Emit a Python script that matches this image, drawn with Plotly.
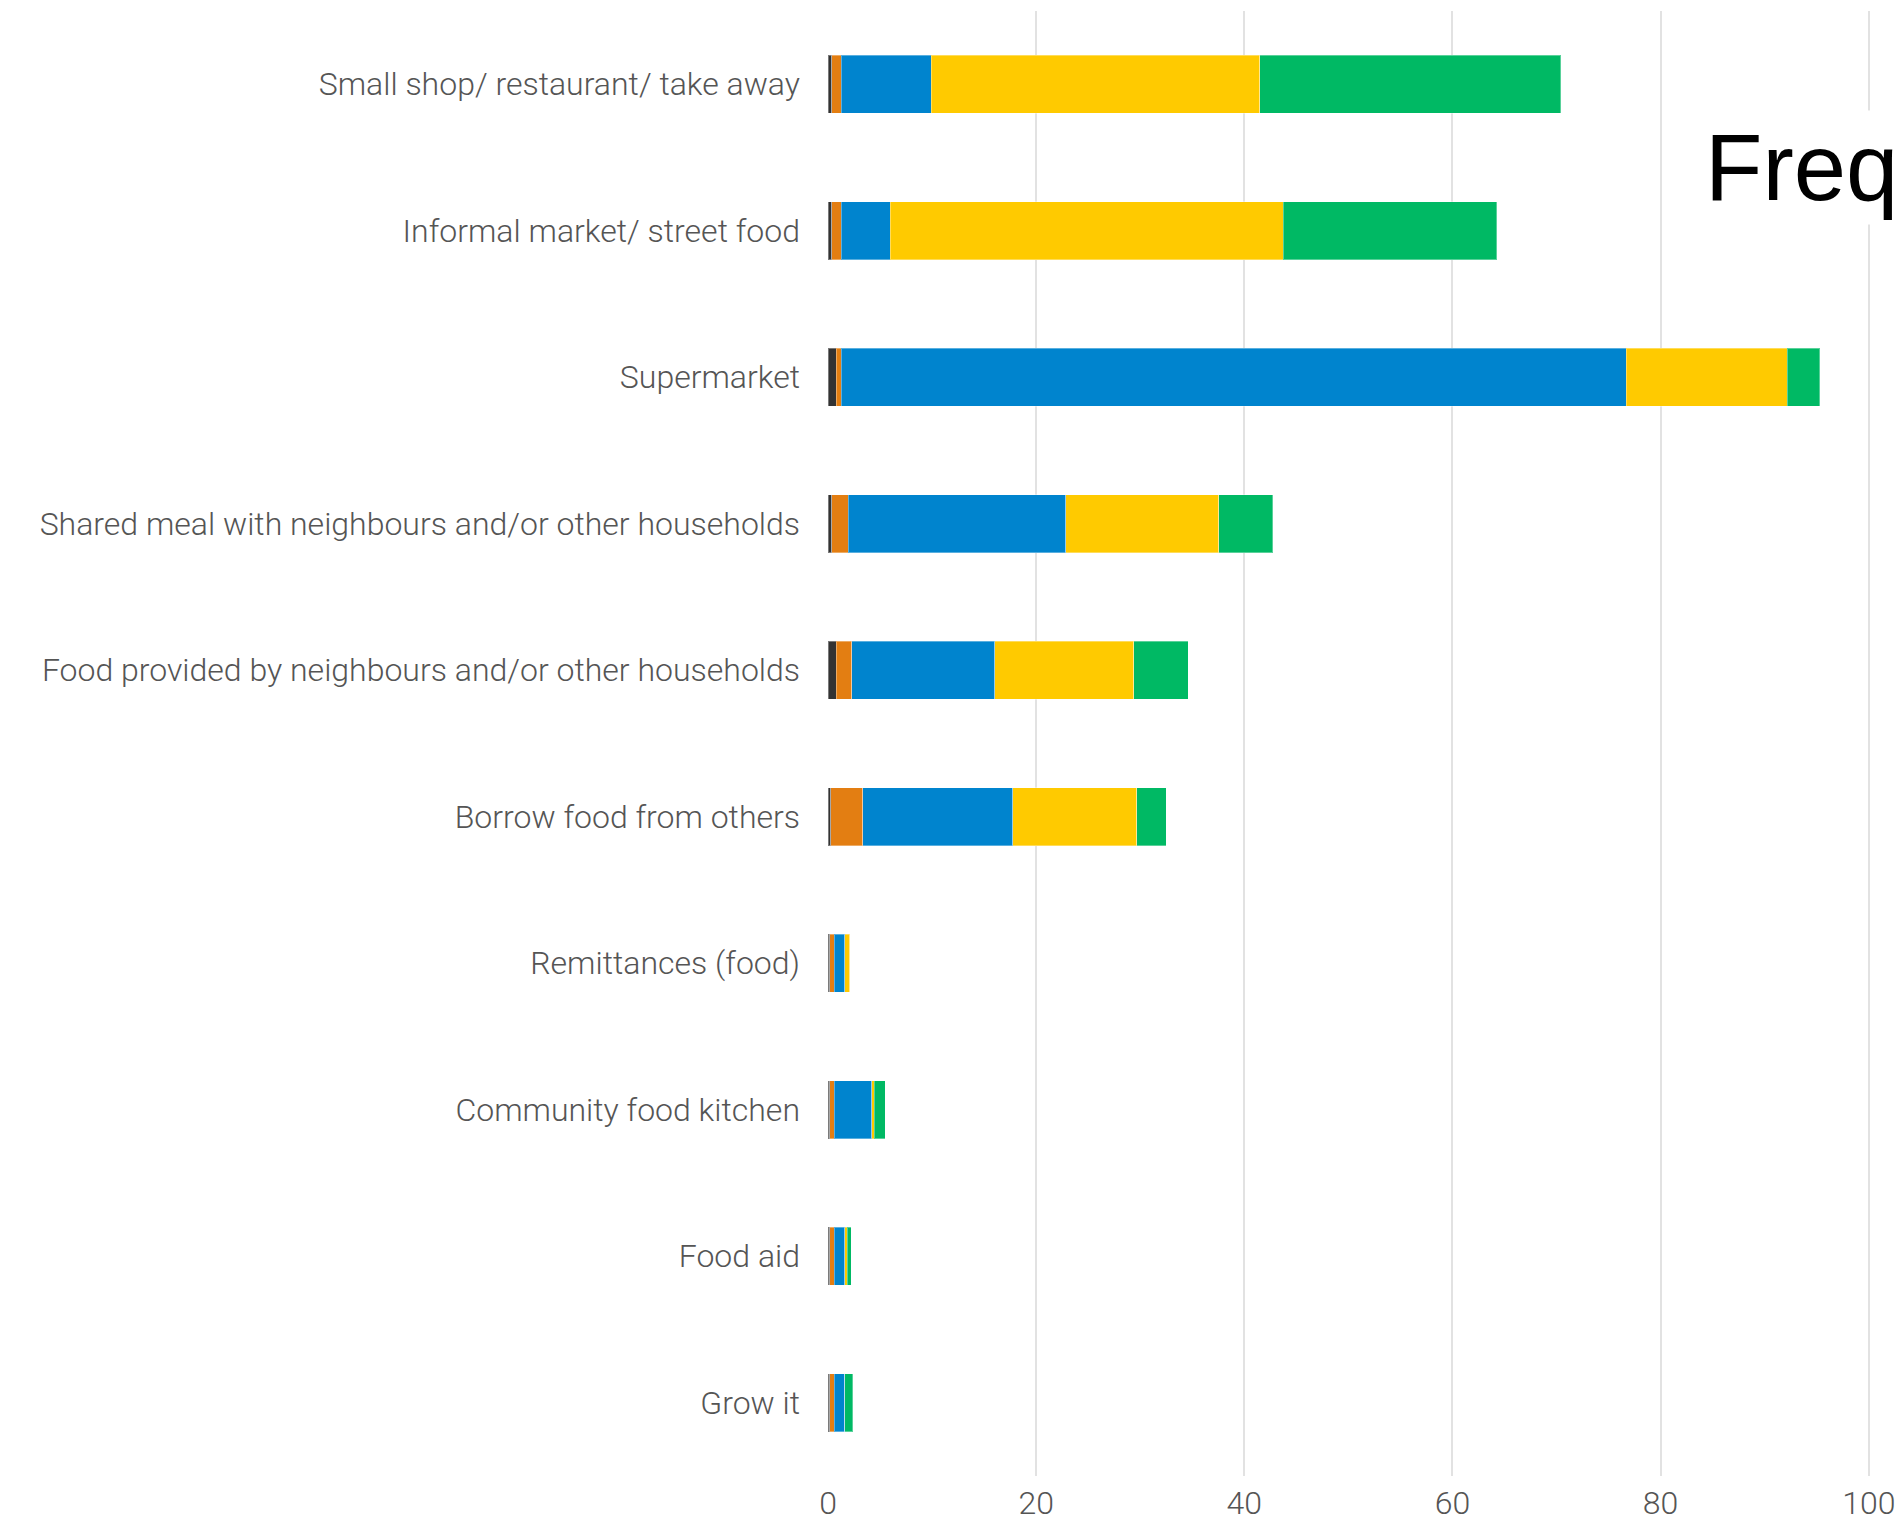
import plotly.graph_objects as go

# Food sources, listed bottom-to-top as they appear on the y axis
sources = [
    "Grow it",
    "Food aid",
    "Community food kitchen",
    "Remittances (food)",
    "Borrow food from others",
    "Food provided by neighbours and/or other households",
    "Shared meal with neighbours and/or other households",
    "Supermarket",
    "Informal market/ street food",
    "Small shop/ restaurant/ take away",
]

# Share of respondents (%) per frequency group, same order as `sources`
no_response = [0.16, 0.16, 0.16, 0.16, 0.25, 0.77, 0.38, 0.77, 0.35, 0.35]
never       = [0.44, 0.44, 0.44, 0.44, 3.10, 1.50, 1.57, 0.52, 0.94, 0.94]
rarely      = [1.00, 1.00, 3.59, 1.00, 14.40, 13.74, 20.90, 75.40, 4.67, 8.61]
sometimes   = [0.00, 0.26, 0.26, 0.51, 11.90, 13.35, 14.70, 15.50, 37.80, 31.60]
often       = [0.77, 0.35, 1.03, 0.00, 2.85, 5.25, 5.20, 3.10, 20.50, 28.90]

series = [
    ("No response", no_response, "#333333"),
    ("Never", never, "#E37E12"),
    ("Rarely", rarely, "#0084CE"),
    ("Sometimes", sometimes, "#FFCA00"),
    ("Often", often, "#00B964"),
]

x_ticks = [0, 20, 40, 60, 80, 100]

fig = go.Figure()
for name, values, color in series:
    fig.add_trace(go.Bar(
        y=sources,
        x=values,
        name=name,
        orientation="h",
        marker=dict(color=color, line=dict(color="rgba(255,255,255,0.35)", width=1)),
    ))

label_font = dict(family="Roboto", size=32, color="#555555", weight=300)

fig.update_layout(
    barmode="stack",
    bargap=0.604,
    width=1900,
    height=1525,
    margin=dict(l=828, r=0, t=11, b=49),
    paper_bgcolor="white",
    plot_bgcolor="white",
    showlegend=False,
    xaxis=dict(
        range=[0, 103],
        tickvals=x_ticks,
        showgrid=True,
        gridcolor="#e2e2e2",
        gridwidth=2,
        zeroline=False,
        showline=False,
        ticks="",
        tickfont=label_font,
        ticklabelstandoff=5,
        automargin=False,
    ),
    yaxis=dict(
        categoryorder="array",
        categoryarray=sources,
        showgrid=False,
        zeroline=False,
        showline=False,
        ticks="",
        tickfont=label_font,
        ticklabelstandoff=27,
        automargin=False,
    ),
)

# Large caption on a white box at the right edge of the plot
fig.add_annotation(
    text="Freq",
    xref="paper", yref="paper",
    x=(1700 - 828) / 1072, y=(1476 - 168) / 1465,
    xanchor="left", yanchor="middle",
    showarrow=False,
    font=dict(family="Liberation Sans", size=94, color="black"),
    bgcolor="white",
    borderpad=4,
)

fig.write_html("out.html")
